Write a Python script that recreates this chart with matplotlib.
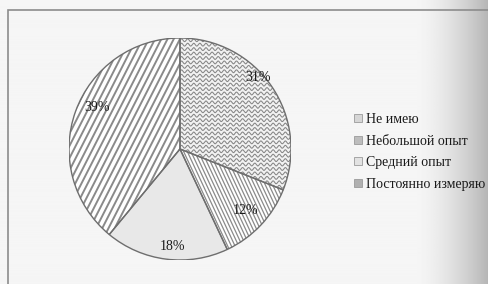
import numpy as np
import matplotlib.pyplot as plt
from matplotlib.patches import Rectangle, Wedge

labels = ['Не имею', 'Небольшой опыт', 'Средний опыт', 'Постоянно измеряю']
shares = [31, 12, 18, 39]

plt.rcParams['font.family'] = ['Liberation Serif', 'DejaVu Serif']

fig = plt.figure(figsize=(4.89, 2.84), dpi=100)
fig.patch.set_facecolor('#f5f5f5')

# scanned page: shadow toward the right edge
bg = fig.add_axes([0, 0, 1, 1], zorder=-1)
bg.axis('off')
xs = np.linspace(0, 1, 489)
shade = np.clip((xs - 0.85) / 0.15, 0, 1) ** 1.6
img = np.tile(0.962 - 0.25 * shade, (10, 1))
bg.imshow(img, cmap='gray', vmin=0, vmax=1, aspect='auto', extent=[0, 1, 0, 1])
bg.set_xlim(0, 1)
bg.set_ylim(0, 1)

# chart frame
fig.add_artist(Rectangle((8 / 489, -0.05), 1.0, 0.965 + 0.05, transform=fig.transFigure,
                         fill=False, ec='#8c8c8c', lw=1.2))

ax = fig.add_axes([69 / 489, 24 / 284, 222 / 489, 222 / 284])
fills = ['#f2f2f2', '#ffffff', '#e8e8e8', '#ffffff']
wedges, _, autotexts = ax.pie(shares, startangle=90, counterclock=False, radius=1,
                              colors=fills, autopct='%.0f%%', pctdistance=0.85,
                              wedgeprops=dict(lw=0, zorder=1),
                              textprops=dict(fontsize=10, color='#1a1a1a'))
# nudge labels the way the original layout places them
nudges = [(0, 13), (-2, 2), (3, -3), (4, 7)]
for t, (dx, dy) in zip(autotexts, nudges):
    t.set_zorder(5)
    t.set_transform(t.get_transform() + plt.matplotlib.transforms.ScaledTranslation(
        dx / 72, dy / 72, fig.dpi_scale_trans))
ax.set_xlim(-1, 1)
ax.set_ylim(-1, 1)
ax.set_aspect('equal')
ax.axis('off')


def stripes(wedge, angle_deg, spacing, lw, color):
    th = np.deg2rad(angle_deg)
    d = np.array([np.cos(th), np.sin(th)])
    n = np.array([-np.sin(th), np.cos(th)])
    for off in np.arange(-1.6, 1.6, spacing):
        p0 = n * off - d * 1.6
        p1 = n * off + d * 1.6
        ln, = ax.plot([p0[0], p1[0]], [p0[1], p1[1]], color=color, lw=lw, zorder=2)
        ln.set_clip_path(wedge)


def waves(wedge, spacing, amp, wl, lw, color):
    x = np.linspace(-1.1, 1.1, 900)
    for y0 in np.arange(-1.1, 1.1, spacing):
        ln, = ax.plot(x, y0 + amp * np.sin(2 * np.pi * x / wl), color=color, lw=lw, zorder=2)
        ln.set_clip_path(wedge)


waves(wedges[0], 0.04, 0.013, 0.055, 0.75, '#858585')
stripes(wedges[1], -65, 0.03, 0.9, '#8a8a8a')
stripes(wedges[3], 63, 0.05, 1.4, '#8a8a8a')

for w in wedges:
    ax.add_patch(Wedge(w.center, w.r, w.theta1, w.theta2, fill=False,
                       ec='#6e6e6e', lw=1.0, zorder=3))

handles = [Rectangle((0, 0), 1, 1, fc=c, ec='#9a9a9a', lw=0.6)
           for c in ['#d6d6d6', '#bdbdbd', '#e2e2e2', '#b0b0b0']]
fig.legend(handles, labels, loc='upper left', bbox_to_anchor=(354 / 489, 1 - 113 / 284),
           frameon=False, fontsize=10, handlelength=0.55, handleheight=0.55,
           handletextpad=0.3, labelspacing=0.62, borderpad=0, borderaxespad=0,
           labelcolor='#1a1a1a')

fig.savefig('out.png', dpi=100, facecolor=fig.get_facecolor())
